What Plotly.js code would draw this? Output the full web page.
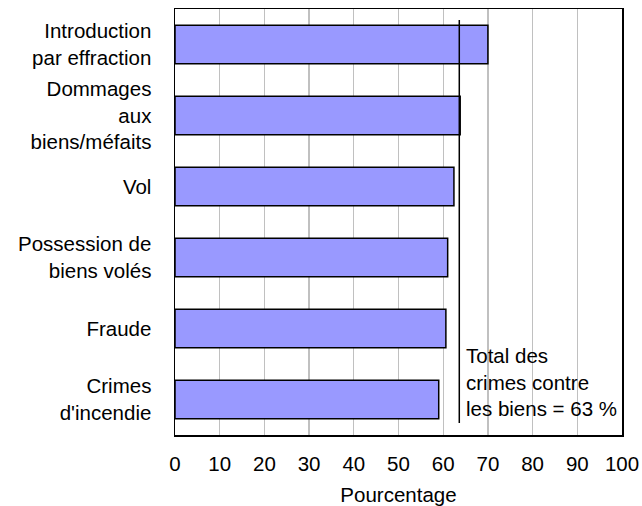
<!DOCTYPE html>
<html>
<head>
<meta charset="utf-8">
<script src="https://cdn.plot.ly/plotly-3.0.1.min.js"></script>
<style>html,body{margin:0;padding:0;background:#fff;}#chart{width:642px;height:506px;}</style>
</head>
<body>
<div id="chart"></div>
<script>
var categories = [
  "Introduction<br>par effraction",
  "Dommages<br>aux<br>biens/méfaits",
  "Vol",
  "Possession de<br>biens volés",
  "Fraude",
  "Crimes<br>d'incendie"
];
var percentages = [70, 63.8, 62.4, 61.0, 60.6, 59.0];
var totalValue = 63.6;
var totalLabel = "Total des<br>crimes contre<br>les biens = 63 %";
var xTickValues = [0, 10, 20, 30, 40, 50, 60, 70, 80, 90, 100];
var xTitle = "Pourcentage";

var font = {family: "Liberation Sans, Arial, sans-serif", size: 20.5, color: "#000"};

var trace = {
  type: "bar",
  orientation: "h",
  y: categories,
  x: percentages,
  marker: {color: "#9999ff", line: {color: "#000", width: 1.5}},
  hoverinfo: "skip"
};

var layout = {
  width: 642, height: 506,
  margin: {l: 175, r: 20, t: 9, b: 71},
  paper_bgcolor: "#fff", plot_bgcolor: "#fff",
  font: font,
  showlegend: false,
  bargap: 0.46,
  xaxis: {
    range: [0, 100],
    tickvals: xTickValues,
    ticktext: xTickValues.map(String),
    showgrid: true, gridcolor: "#c0c0c0", gridwidth: 1.3,
    zeroline: false,
    showline: true, linecolor: "#000", linewidth: 1.5, mirror: true,
    ticks: "", ticklabelstandoff: 10,
    title: {text: xTitle, font: font, standoff: 14},
    fixedrange: true
  },
  yaxis: {
    autorange: "reversed",
    showgrid: false, zeroline: false,
    showline: true, linecolor: "#000", linewidth: 1.5, mirror: true,
    ticks: "", ticklabelstandoff: 18,
    fixedrange: true
  },
  shapes: [{
    type: "line", xref: "x", yref: "paper",
    x0: totalValue, x1: totalValue, y0: 0.028, y1: 0.974,
    line: {color: "#000", width: 1.5}
  }],
  annotations: [{
    xref: "x", yref: "paper",
    x: totalValue + 1.1, y: 0.124,
    xanchor: "left", yanchor: "middle", align: "left",
    text: totalLabel, showarrow: false, font: font
  }]
};

Plotly.newPlot("chart", [trace], layout, {staticPlot: true, displayModeBar: false});
</script>
</body>
</html>
